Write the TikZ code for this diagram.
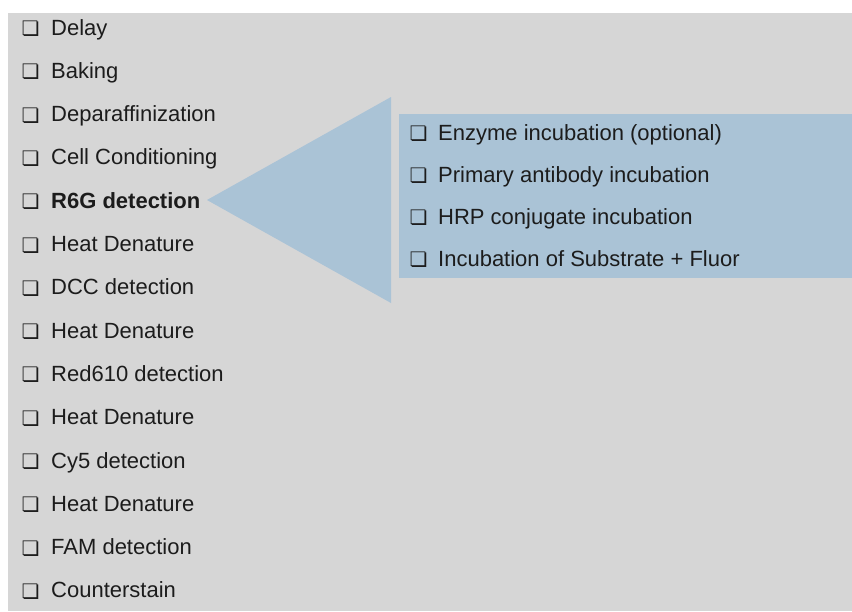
\documentclass[tikz,border=0pt]{standalone}
\usepackage{fontspec}
\setmainfont{Liberation Sans}
\newfontfamily\boxfont{DejaVu Sans}
\definecolor{bggray}{HTML}{D6D6D6}
\definecolor{panelblue}{HTML}{AAC3D6}
\definecolor{txt}{HTML}{1C1C1C}
\tikzset{
  item/.style={anchor=base west, inner sep=0pt, text=txt, font=\fontsize{22}{26}\selectfont},
  chk/.style={anchor=base west, inner sep=0pt, text=txt, font=\boxfont\fontsize{20}{24}\selectfont},
}
\begin{document}
\begin{tikzpicture}[x=1pt,y=-1pt]
\useasboundingbox (0,0) rectangle (852,611);
\fill[white] (0,0) rectangle (852,611);
\fill[bggray] (8,13) rectangle (852,611);
% callout
\fill[panelblue] (207,200) -- (391,97) -- (391,303) -- cycle;
\fill[panelblue] (399,114) rectangle (852,278);
% left list
\foreach \i/\t in {0/Delay,1/Baking,2/Deparaffinization,3/Cell Conditioning,5/Heat Denature,6/DCC detection,7/Heat Denature,8/Red610 detection,9/Heat Denature,10/Cy5 detection,11/Heat Denature,12/FAM detection,13/Counterstain}{
  \node[chk] (c\i) at (21.5,{35.5+43.3*\i}) {❏};
  \node[item] (l\i) at (51,{35+43.3*\i}) {\t};
}
\node[chk] (c4) at (21.5,{35.5+43.3*4}) {❏};
\node[item,font=\fontsize{22}{26}\selectfont\bfseries] (l4) at (51,{35+43.3*4}) {R6G detection};
% right list
\foreach \j/\t in {0/Enzyme incubation (optional),1/Primary antibody incubation,2/HRP conjugate incubation,3/Incubation of Substrate + Fluor}{
  \node[chk] (d\j) at (409.5,{140.5+42*\j}) {❏};
  \node[item] (r\j) at (438,{140+42*\j}) {\t};
}
\end{tikzpicture}
\end{document}
